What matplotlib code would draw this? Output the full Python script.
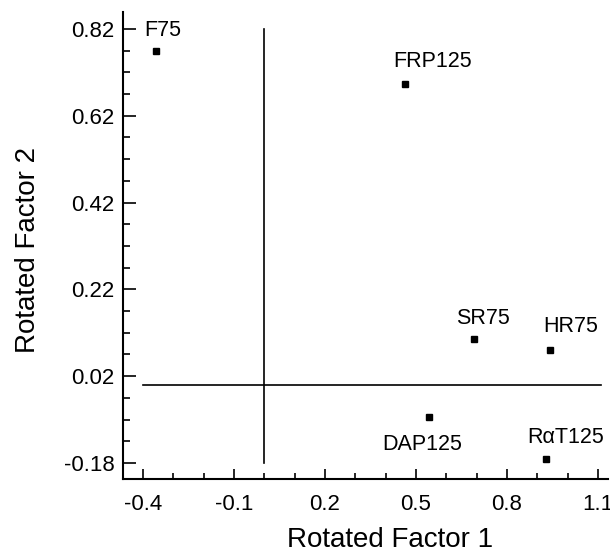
import matplotlib
matplotlib.use('Agg')
import matplotlib.pyplot as plt
from matplotlib.ticker import MultipleLocator

plt.rcParams['font.family'] = ['Liberation Sans', 'DejaVu Sans']

# loadings
names = ['F75', 'FRP125', 'SR75', 'HR75', 'DAP125', 'RαT125']
factor1 = [-0.358, 0.463, 0.690, 0.941, 0.542, 0.928]
factor2 = [0.769, 0.693, 0.105, 0.080, -0.074, -0.172]
# label offsets in points (dx, dy), labels sit above or below the marker
label_offsets = [(5, 15), (20, 16), (7, 15), (15, 17), (-5, -20), (14, 16)]

x_ticks = [-0.4, -0.1, 0.2, 0.5, 0.8, 1.1]
y_ticks = [-0.18, 0.02, 0.22, 0.42, 0.62, 0.82]

fig = plt.figure(figsize=(6.10, 5.54), dpi=100)
ax = fig.add_axes([0.2016, 0.1354, 0.795, 0.843])

ax.plot(factor1, factor2, ls='none', marker='s', ms=5, color='black')
for name, x, y, (dx, dy) in zip(names, factor1, factor2, label_offsets):
    ax.annotate(name, (x, y), xytext=(dx, dy), textcoords='offset points',
                ha='center', va='center', fontsize=15.5)

# reference cross at the origin, spanning the tick range
ax.plot([x_ticks[0], x_ticks[-1] + 0.01], [0, 0], color='black', lw=1.2)
ax.plot([0, 0], [y_ticks[0], y_ticks[-1]], color='black', lw=1.2)

ax.set_xlim(-0.466, 1.133)
ax.set_ylim(-0.217, 0.859)
ax.set_xticks(x_ticks)
ax.set_xticklabels([f'{v:.1f}' for v in x_ticks])
ax.set_yticks(y_ticks)
ax.set_yticklabels([f'{v:.2f}' for v in y_ticks])
ax.xaxis.set_minor_locator(MultipleLocator(0.1))
ax.yaxis.set_minor_locator(plt.FixedLocator([y_ticks[0] + 0.05 * i for i in range(21)]))

ax.spines['top'].set_visible(False)
ax.spines['right'].set_visible(False)
ax.spines['left'].set_linewidth(1.5)
ax.spines['bottom'].set_linewidth(1.5)
ax.tick_params(axis='both', which='both', direction='in', labelsize=16, width=1.2)
ax.tick_params(axis='x', which='major', length=7, pad=11)
ax.tick_params(axis='x', which='minor', length=4)
ax.tick_params(axis='y', which='major', length=9, pad=6)
ax.tick_params(axis='y', which='minor', length=5)

ax.set_xlabel('Rotated Factor 1', fontsize=20)
ax.set_ylabel('Rotated Factor 2', fontsize=20)
ax.xaxis.set_label_coords(0.55, -0.103)
ax.yaxis.set_label_coords(-0.17, 0.49)

fig.savefig('out.png', dpi=100)
